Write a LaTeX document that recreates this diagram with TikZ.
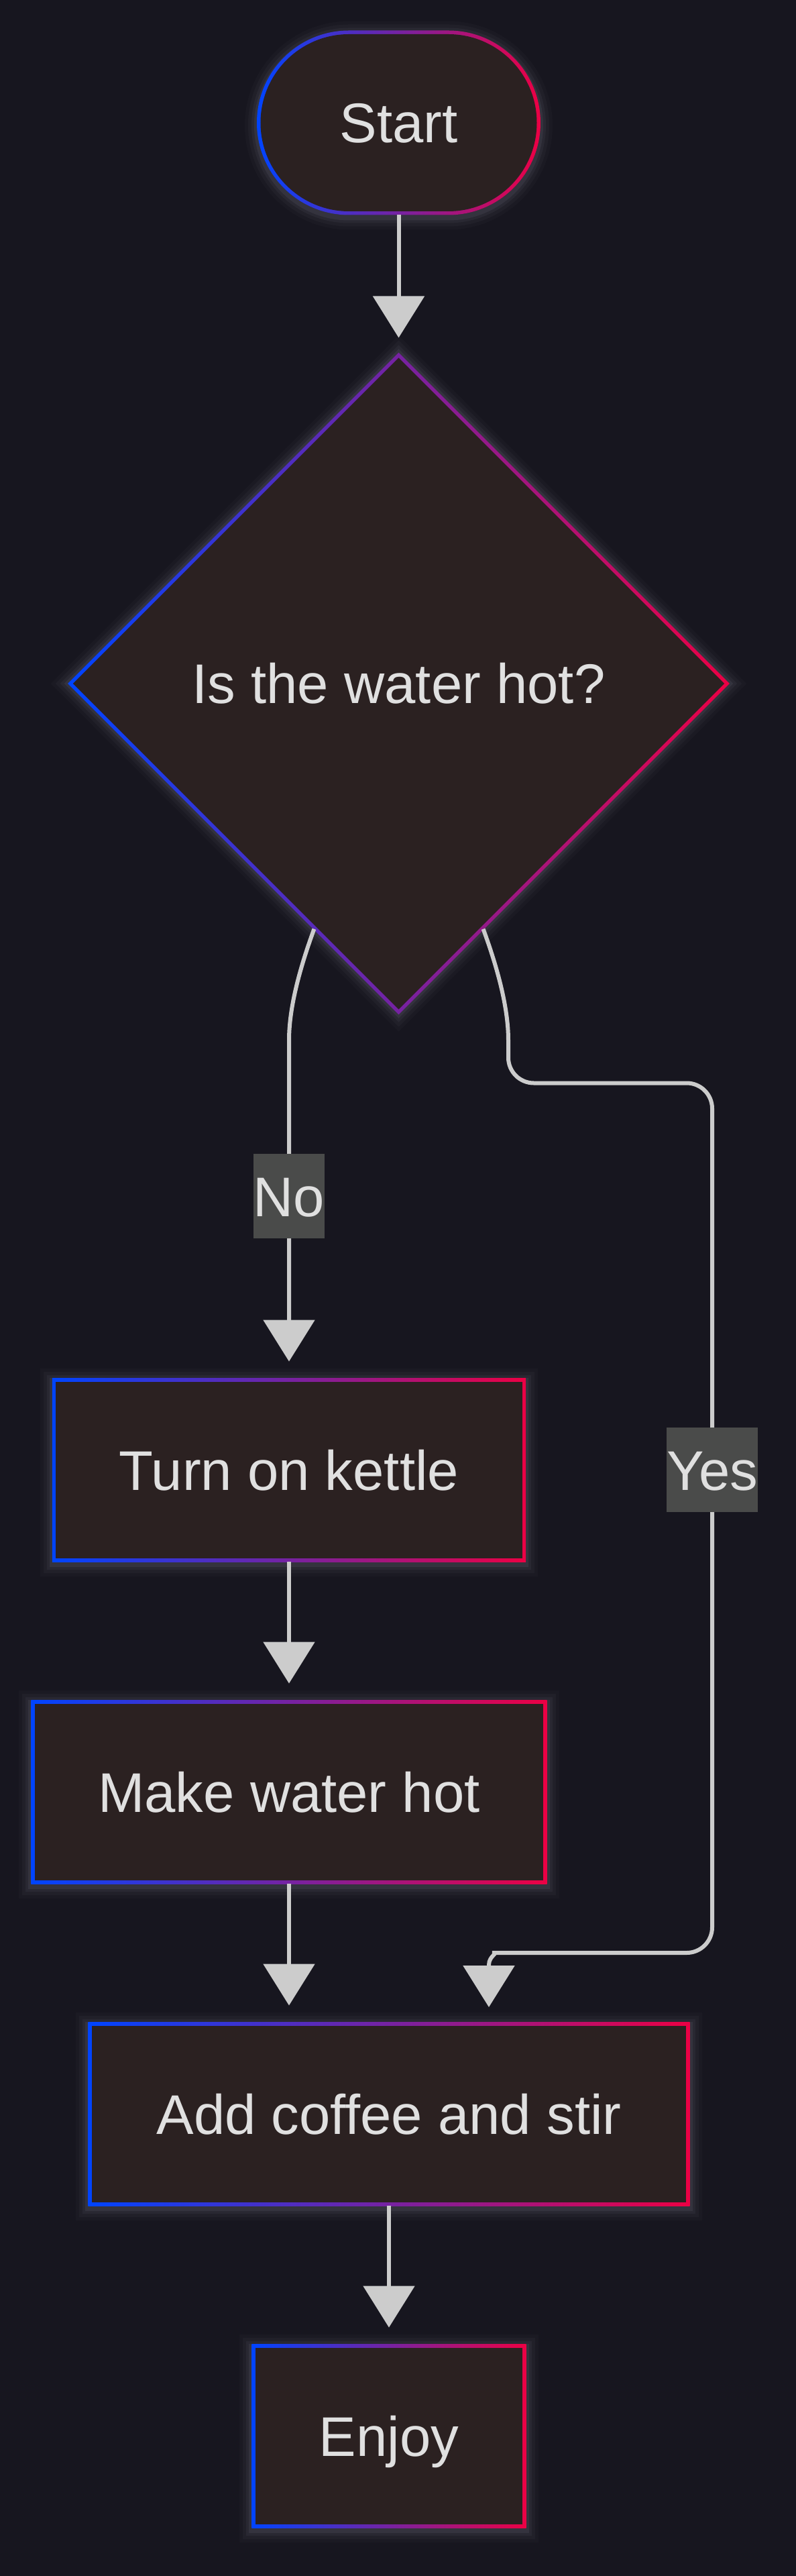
\documentclass[tikz,border=0pt]{standalone}
\usepackage{fontspec}
\setmainfont{Liberation Sans}
\usetikzlibrary{arrows.meta,positioning,calc,fit,backgrounds,shapes.geometric}
\definecolor{bgdark}{HTML}{17161F}
\definecolor{boxfill}{HTML}{2B2121}
\definecolor{inklight}{HTML}{E0E0E0}
\definecolor{edgegray}{HTML}{CCCCCC}
\definecolor{lblfill}{HTML}{4A4B4A}
\definecolor{ringblue}{HTML}{0044FF}
\definecolor{ringred}{HTML}{EC0044}
\definecolor{glowgray}{HTML}{C8C8DC}

\begin{document}
\begin{tikzpicture}[
  font=\fontsize{23.7pt}{28pt}\selectfont,
  base/.style   = {fill=boxfill, text=inklight, inner sep=0pt, outer sep=0pt,
                   text height=6mm, text depth=0pt, align=center},
  proc/.style   = {base, minimum height=26.3mm},
  term/.style   = {base, minimum width=41.2mm, minimum height=26.4mm, rounded corners=13.2mm},
  decide/.style = {base, diamond, aspect=1, minimum width=97.1mm, minimum height=97.1mm},
  ring/.style   = {inner sep=0.55mm, outer sep=0pt, left color=ringblue, right color=ringred},
  halo/.style   = {inner sep=0.55mm, outer sep=0pt, draw=glowgray, yshift=-0.4mm},
  flow/.style   = {-{Triangle[length=6.2mm 0 0, width=7.6mm 0 0]}, line width=0.6mm, draw=edgegray,
                   shorten <=0.5mm, shorten >=3mm},
  lbl/.style    = {sharp corners, fill=lblfill, text=inklight, inner xsep=0pt, inner ysep=0pt,
                   minimum height=12.6mm, text height=6mm, text depth=0pt},
]

% ---------- canvas -------------------------------------------------------------------------
\useasboundingbox (-59.45mm,18.3mm) rectangle (59.15mm,-365.7mm);
\begin{scope}[on background layer]
  \fill[bgdark] (-61mm,20mm) rectangle (61mm,-368mm);
\end{scope}

% ---------- steps --------------------------------------------------------------------------
\node[term] (start) {Start};
\node[decide, below=21.85mm of start] (dec) {Is the water hot?};
\node[proc, minimum width=69.5mm, below=55.5mm of dec, xshift=-16.35mm] (kettle) {Turn on kettle};
\node[proc, minimum width=75.8mm, below=21.7mm of kettle] (make) {Make water hot};
\node[proc, minimum width=88.6mm, below=21.7mm of make, xshift=14.9mm] (add) {Add coffee and stir};
\node[proc, minimum width=39.8mm, below=21.7mm of add] (enjoy) {Enjoy};

% ---------- connectors ---------------------------------------------------------------------
\draw[flow] (start) -- (dec);
\draw[flow] (dec.-109) .. controls +(-2.2mm,-6mm) and +(0,5mm) .. ([shift={(-16.35mm,-4.6mm)}]dec.south)
  -- node[lbl, pos=.457] {No} (kettle.north);
\draw[flow, shorten >=0pt]
  (dec.-71) .. controls +(2.2mm,-6mm) and +(0,5mm) .. ([shift={(16.35mm,-4.6mm)}]dec.south)
  [rounded corners=3.8mm] -- ([shift={(16.35mm,-11mm)}]dec.south)
  -- ([shift={(46.75mm,-11mm)}]dec.south)
  -- node[lbl, pos=.445] {Yes} ([shift={(46.75mm,-140.65mm)}]dec.south)
  -- ([shift={(19.2mm,10.85mm)}]add.north)
  [sharp corners] .. controls ([shift={(16.5mm,10.85mm)}]add.north) and ([shift={(14.9mm,10.45mm)}]add.north)
  .. ([shift={(14.9mm,9.05mm)}]add.north)
  -- ([shift={(14.9mm,2.75mm)}]add.north);
\draw[flow] (kettle) -- (make);
\draw[flow] (make.south) -- (make.south |- add.north);
\draw[flow] (add) -- (enjoy);

% ---------- glow and gradient borders ------------------------------------------------------
\begin{scope}[on background layer]
  \foreach \gw/\go in {3.6/0.025, 2.6/0.035, 1.6/0.05, 0.8/0.07}
    \node[halo, fit=(start), rounded corners=13.75mm, line width=\gw mm, draw opacity=\go] {};
  \node[ring, fit=(start), rounded corners=13.75mm] {};
  \foreach \n in {kettle,make,add,enjoy}{
    \foreach \gw/\go in {3.6/0.025, 2.6/0.035, 1.6/0.05, 0.8/0.07}
      \node[halo, fit=(\n), line width=\gw mm, draw opacity=\go] {};
    \node[ring, fit=(\n)] {};
  }
  \foreach \gw/\go in {3.6/0.025, 2.6/0.035, 1.6/0.05, 0.8/0.07}
    \draw[glowgray, line width=\gw mm, draw opacity=\go]
      ([yshift=0.78mm]dec.north) -- ([xshift=0.78mm]dec.east) -- ([yshift=-0.78mm]dec.south)
      -- ([xshift=-0.78mm]dec.west) -- cycle;
  \shade[left color=ringblue, right color=ringred]
    ([yshift=0.78mm]dec.north) -- ([xshift=0.78mm]dec.east) -- ([yshift=-0.78mm]dec.south)
    -- ([xshift=-0.78mm]dec.west) -- cycle;
\end{scope}

\end{tikzpicture}
\end{document}
